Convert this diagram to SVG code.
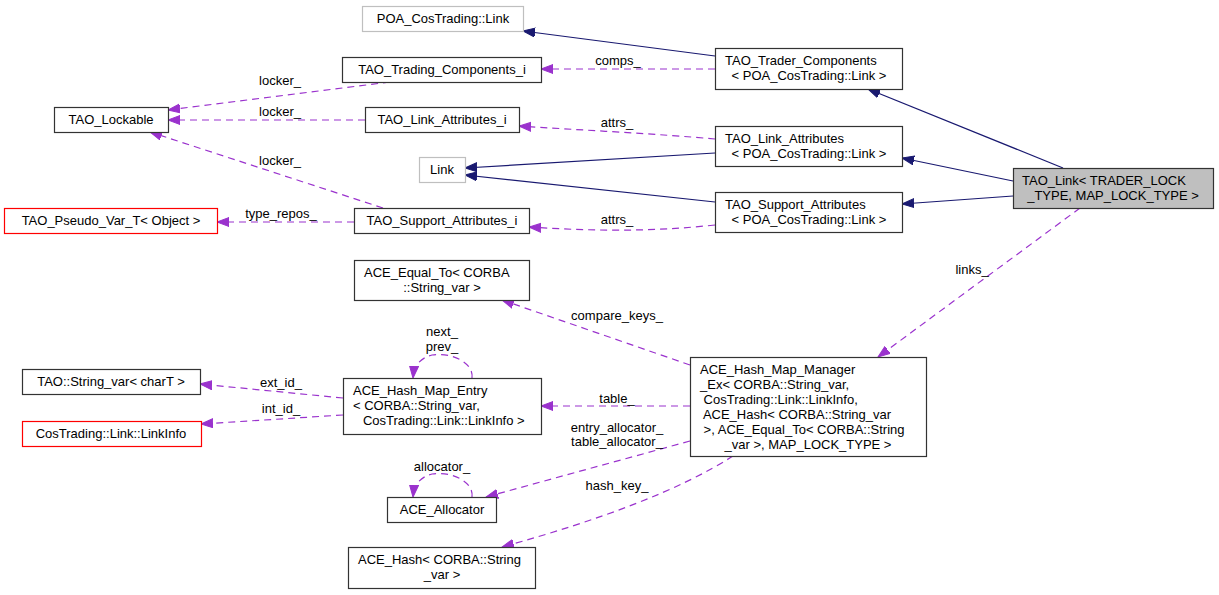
<svg xmlns="http://www.w3.org/2000/svg" width="1219" height="595" viewBox="0 0 1219 595">
<style>
  text { font-family: "Liberation Sans", Arial, sans-serif; font-size: 13px; fill: #000; white-space: pre; }
  .m { text-anchor: middle; }
  .box { fill: #fff; stroke: #333; stroke-width: 1.2; }
  .gray { fill: #fff; stroke: #bfbfbf; stroke-width: 1.2; }
  .red { fill: #fff; stroke: #ff0000; stroke-width: 1.2; }
  .main { fill: #bfbfbf; stroke: #333; stroke-width: 1.2; }
  .inh { fill: none; stroke: #191970; stroke-width: 1.2; marker-end: url(#an); }
  .use { fill: none; stroke: #9a32cd; stroke-width: 1.2; stroke-dasharray: 7,5; marker-end: url(#ap); }
</style>
<defs>
  <marker id="an" markerUnits="userSpaceOnUse" markerWidth="14" markerHeight="11" refX="12" refY="5" orient="auto">
    <path d="M0,0.5 L12,5 L0,9.5 z" fill="#191970" stroke="#191970"/>
  </marker>
  <marker id="ap" markerUnits="userSpaceOnUse" markerWidth="14" markerHeight="11" refX="12" refY="5" orient="auto">
    <path d="M0,0.5 L12,5 L0,9.5 z" fill="#9a32cd" stroke="#9a32cd"/>
  </marker>
</defs>
<rect width="1219" height="595" fill="#fff"/>

<g id="edges">
  <path class="inh" d="M715,56 L523,31"/>
  <path class="inh" d="M1063,168 L868,89"/>
  <path class="inh" d="M1013,181 L902,158"/>
  <path class="inh" d="M1013,196 L902,204"/>
  <path class="inh" d="M715,153 L465,168"/>
  <path class="inh" d="M715,202 L465,175"/>

  <path class="use" d="M715,69 L541,69"/>
  <text class="m" x="618" y="65">comps_</text>
  <path class="use" d="M715,139 C660,134 580,130 519,126"/>
  <text class="m" x="617" y="127">attrs_</text>
  <path class="use" d="M715,225 C650,232 590,231 529,227"/>
  <text class="m" x="617" y="224">attrs_</text>
  <path class="use" d="M390,82 L168,110"/>
  <text class="m" x="280" y="85">locker_</text>
  <path class="use" d="M365,120 L168,120"/>
  <text class="m" x="280" y="116">locker_</text>
  <path class="use" d="M383,208 L150,132"/>
  <text class="m" x="280" y="165">locker_</text>
  <path class="use" d="M354,222 L217,222"/>
  <text class="m" x="281" y="218">type_repos_</text>
  <path class="use" d="M1080,208 L878,357"/>
  <text class="m" x="972" y="274">links_</text>
  <path class="use" d="M690,365 L502,300"/>
  <text class="m" x="617" y="320">compare_keys_</text>
  <path class="use" d="M690,406 L541,406"/>
  <text class="m" x="617" y="403">table_</text>
  <path class="use" d="M690,441 L486,497"/>
  <text class="m" x="617" y="432">entry_allocator_</text>
  <text class="m" x="617" y="446">table_allocator_</text>
  <path class="use" d="M733,456 C680,490 600,520 502,547"/>
  <text class="m" x="617" y="490">hash_key_</text>
  <path class="use" d="M343,398 L200,384"/>
  <text class="m" x="281" y="387">ext_id_</text>
  <path class="use" d="M343,415 L201,424"/>
  <text class="m" x="281" y="413">int_id_</text>
  <path class="use" d="M472,378 C474,362 450,352 432,355 C420,358 414,366 413,378"/>
  <text class="m" x="442" y="336">next_</text>
  <text class="m" x="442" y="351">prev_</text>
  <path class="use" d="M472,497 C474,481 450,471 432,474 C420,477 414,485 413,497"/>
  <text class="m" x="442" y="471">allocator_</text>
</g>

<g id="n_poa_link"><rect class="gray" x="362.5" y="6.5" width="161" height="25"/><text class="m" x="443" y="23">POA_CosTrading::Link</text></g>
<g id="n_trader_components"><rect class="box" x="715.5" y="48.5" width="187" height="41"/><text x="725" y="65">TAO_Trader_Components</text><text class="m" x="809" y="80">&lt; POA_CosTrading::Link &gt;</text></g>
<g id="n_trading_components_i"><rect class="box" x="342.5" y="57.5" width="199" height="25"/><text class="m" x="442" y="74">TAO_Trading_Components_i</text></g>
<g id="n_lockable"><rect class="box" x="54.5" y="107.5" width="114" height="25"/><text class="m" x="111" y="124">TAO_Lockable</text></g>
<g id="n_link_attributes_i"><rect class="box" x="365.5" y="107.5" width="154" height="25"/><text class="m" x="442" y="124">TAO_Link_Attributes_i</text></g>
<g id="n_link_attributes"><rect class="box" x="715.5" y="126.5" width="187" height="40"/><text x="725" y="143">TAO_Link_Attributes</text><text class="m" x="809" y="158">&lt; POA_CosTrading::Link &gt;</text></g>
<g id="n_link"><rect class="gray" x="419.5" y="157.5" width="46" height="25"/><text class="m" x="442" y="174">Link</text></g>
<g id="n_tao_link"><rect class="main" x="1013.5" y="168.5" width="200" height="40"/><text x="1022" y="185">TAO_Link&lt; TRADER_LOCK</text><text class="m" x="1113" y="200">_TYPE, MAP_LOCK_TYPE &gt;</text></g>
<g id="n_support_attributes"><rect class="box" x="715.5" y="192.5" width="187" height="40"/><text x="725" y="209">TAO_Support_Attributes</text><text class="m" x="809" y="224">&lt; POA_CosTrading::Link &gt;</text></g>
<g id="n_pseudo_var"><rect class="red" x="4.5" y="208.5" width="213" height="25"/><text class="m" x="111" y="225">TAO_Pseudo_Var_T&lt; Object &gt;</text></g>
<g id="n_support_attributes_i"><rect class="box" x="354.5" y="208.5" width="175" height="25"/><text class="m" x="442" y="225">TAO_Support_Attributes_i</text></g>
<g id="n_equal_to"><rect class="box" x="354.5" y="260.5" width="175" height="40"/><text x="364" y="277">ACE_Equal_To&lt; CORBA</text><text class="m" x="442" y="292">::String_var &gt;</text></g>
<g id="n_hash_map_manager"><rect class="box" x="690.5" y="357.5" width="236" height="99"/>
  <text x="700" y="374">ACE_Hash_Map_Manager</text>
  <text x="700" y="389">_Ex&lt; CORBA::String_var,</text>
  <text x="700" y="404"> CosTrading::Link::LinkInfo,</text>
  <text x="700" y="419"> ACE_Hash&lt; CORBA::String_var</text>
  <text x="700" y="434"> &gt;, ACE_Equal_To&lt; CORBA::String</text>
  <text class="m" x="808" y="449">_var &gt;, MAP_LOCK_TYPE &gt;</text>
</g>
<g id="n_string_var"><rect class="box" x="22.5" y="369.5" width="178" height="25"/><text class="m" x="111" y="386">TAO::String_var&lt; charT &gt;</text></g>
<g id="n_hash_map_entry"><rect class="box" x="343.5" y="378.5" width="198" height="56"/>
  <text x="353" y="395">ACE_Hash_Map_Entry</text>
  <text x="353" y="410">&lt; CORBA::String_var,</text>
  <text class="m" x="442" y="425"> CosTrading::Link::LinkInfo &gt;</text>
</g>
<g id="n_linkinfo"><rect class="red" x="22.5" y="421.5" width="179" height="25"/><text class="m" x="111" y="438">CosTrading::Link::LinkInfo</text></g>
<g id="n_allocator"><rect class="box" x="387.5" y="497.5" width="109" height="25"/><text class="m" x="442" y="514">ACE_Allocator</text></g>
<g id="n_hash"><rect class="box" x="348.5" y="547.5" width="187" height="41"/><text x="358" y="564">ACE_Hash&lt; CORBA::String</text><text class="m" x="442" y="579">_var &gt;</text></g>
</svg>
